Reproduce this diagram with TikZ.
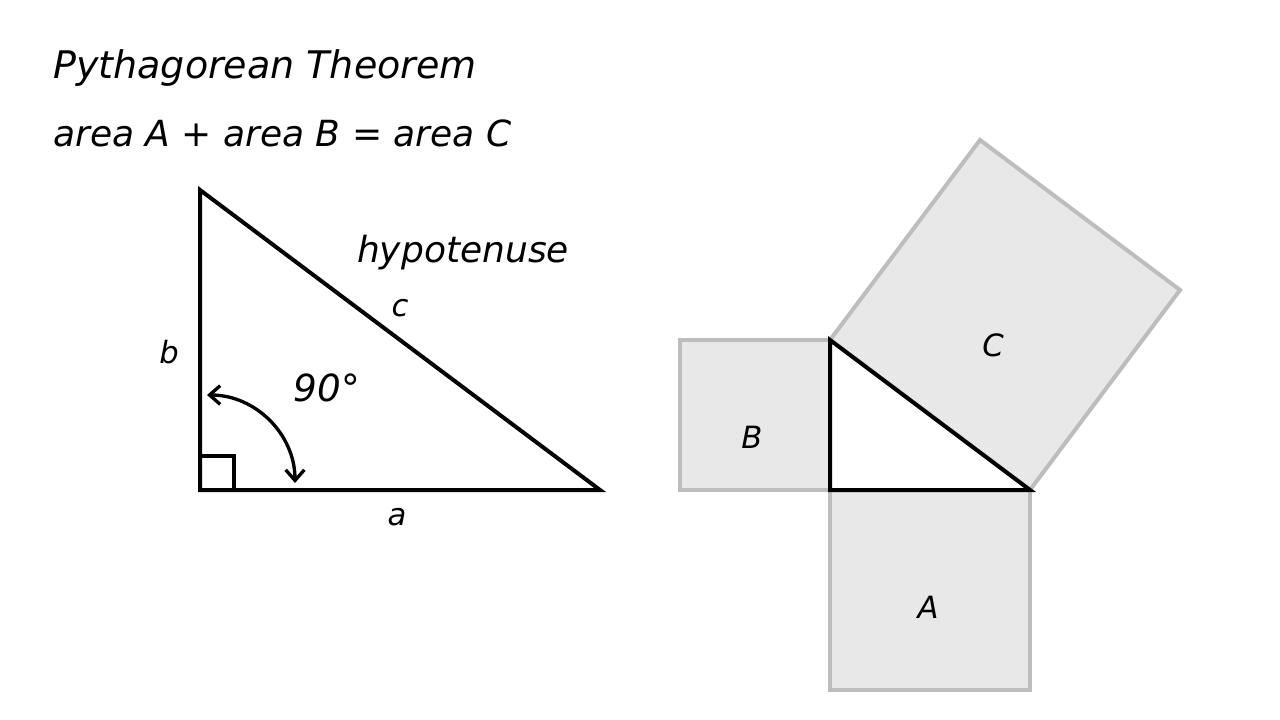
\documentclass[tikz,border=0pt]{standalone}
\usepackage{fontspec}
\setmainfont{DejaVu Sans}
\usetikzlibrary{arrows.meta}
\definecolor{sqfill}{HTML}{E8E8E8}
\definecolor{sqdraw}{HTML}{BDBDBD}
\begin{document}
\begin{tikzpicture}[x=0.75pt,y=-0.75pt,
  lbl/.style={font=\itshape\fontsize{23}{27}\selectfont, inner sep=0pt},
  tri/.style={draw=black, line width=3pt, line join=miter},
  sq/.style={draw=sqdraw, fill=sqfill, line width=3pt, line join=miter}]
\useasboundingbox[fill=white] (0,0) rectangle (1280,720);
% titles
\node[font=\itshape\fontsize{28.5}{32}\selectfont, inner sep=0pt, anchor=west] (title) at (53,68) {Pythagorean Theorem};
\node[font=\itshape\fontsize{27}{31}\selectfont, inner sep=0pt, anchor=west] (eq) at (53,133) {area A + area B = area C};
% left triangle
\coordinate (L1) at (200,190);
\coordinate (L2) at (200,490);
\coordinate (L3) at (600,490);
\draw[tri] (L1) -- (L2) -- (L3) -- cycle;
\draw[line width=2.5pt] (200,456) -- (234,456) -- (234,490);
\draw[line width=2.5pt, {Straight Barb[length=8pt,width=14pt]}-{Straight Barb[length=8pt,width=14pt]}] (207,395) arc[start angle=-90, end angle=0, radius=88];
\node[font=\itshape\fontsize{27}{31}\selectfont, inner sep=0pt] (hyp) at (463,253) {hypotenuse};
\node[lbl] (c) at (400,308) {c};
\node[lbl] (b) at (169,352) {b};
\node[font=\itshape\fontsize{28}{32}\selectfont, inner sep=0pt] (deg) at (327,388) {90°};
\node[lbl] (a) at (397,517) {a};
% right figure
\draw[sq] (680,340) rectangle (830,490);
\draw[sq] (830,490) rectangle (1030,690);
\draw[sq] (830,340) -- (980,140) -- (1180,290) -- (1030,490) -- cycle;
\draw[tri, fill=white] (830,340) -- (830,490) -- (1030,490) -- cycle;
\node[lbl] (B) at (752,437) {B};
\node[lbl] (C) at (993,345) {C};
\node[lbl] (A) at (928,607) {A};
\end{tikzpicture}
\end{document}
